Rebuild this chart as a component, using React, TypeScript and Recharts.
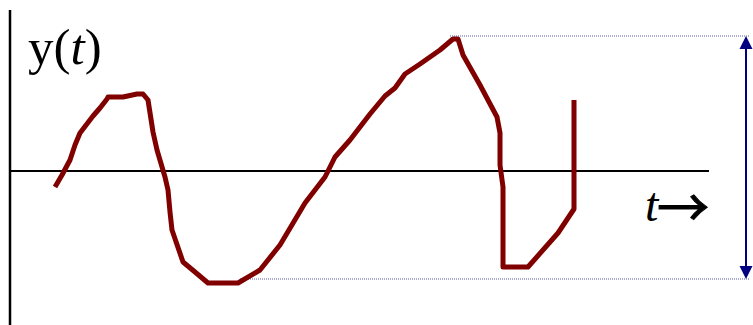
import React from 'react';
import { LineChart, Line, XAxis, YAxis, ReferenceLine } from 'recharts';

// time positions (t) and signal values y(t)
const tValues = [55, 62, 70, 75, 80, 93, 100, 107, 108, 123, 137, 143, 148, 153, 157, 165, 168, 170, 172, 183, 195, 208, 238, 260, 280, 305, 325, 335, 350, 370, 385, 395, 405, 420, 440, 453, 458, 463, 480, 497, 500, 500, 503, 503, 528, 558, 574, 574];
const yValues = [-16, -4, 11, 26, 38, 55, 63, 72, 74, 74, 77, 77, 71, 39, 21, -6, -19, -41, -59, -91, -101, -112, -112, -99, -74, -32, -6, 14, 31, 57, 75, 83, 97, 107, 121, 132, 132, 116, 86, 54, 38, 6, -16, -96, -96, -62, -38, 71];

const data = tValues.map((t, i) => ({ t, y: yValues[i] }));

// annotation levels
const yMax = 135;
const yMin = -108;
const arrowT = 746;

const W = 753;
const H = 325;

const ArrowShape = (p: any) => {
  const x = p.x1;
  const top = Math.min(p.y1, p.y2);
  const bot = Math.max(p.y1, p.y2);
  const hw = 6.5;
  const hl = 13;
  return (
    <g>
      <line x1={x} y1={top + hl} x2={x} y2={bot - hl} stroke="#000080" strokeWidth={2} />
      <polygon points={`${x},${top} ${x - hw},${top + hl} ${x + hw},${top + hl}`} fill="#000080" />
      <polygon points={`${x},${bot} ${x - hw},${bot - hl} ${x + hw},${bot - hl}`} fill="#000080" />
    </g>
  );
};

const serif = "'Liberation Serif', 'Times New Roman', serif";

export default function App() {
  return (
    <div style={{ position: 'absolute', left: 0, top: 0, width: W, height: H, background: '#fff' }}>
      <LineChart width={W} height={H} data={data} margin={{ top: 0, right: 0, bottom: 0, left: 0 }}>
        <XAxis type="number" dataKey="t" domain={[0, W]} hide allowDataOverflow />
        <YAxis type="number" domain={[-154, 171]} hide allowDataOverflow />
        <ReferenceLine segment={[{ x: 10, y: 161 }, { x: 10, y: -154 }]} stroke="#000" strokeWidth={2.5} ifOverflow="visible" />
        <ReferenceLine segment={[{ x: 9, y: 0 }, { x: 709, y: 0 }]} stroke="#000" strokeWidth={2} ifOverflow="visible" />
        <ReferenceLine segment={[{ x: 450, y: yMax }, { x: 750, y: yMax }]} stroke="#5c5ca8" strokeWidth={1} strokeDasharray="1 1" ifOverflow="visible" />
        <ReferenceLine segment={[{ x: 240, y: yMin }, { x: 750, y: yMin }]} stroke="#5c5ca8" strokeWidth={1} strokeDasharray="1 1" ifOverflow="visible" />
        <ReferenceLine segment={[{ x: arrowT, y: yMax }, { x: arrowT, y: yMin }]} shape={ArrowShape} ifOverflow="visible" />
        <Line
          type="linear"
          dataKey="y"
          stroke="#800000"
          strokeWidth={5}
          dot={false}
          activeDot={false}
          strokeLinejoin="round"
          isAnimationActive={false}
        />
        <text x={28} y={64} fontFamily={serif} fontSize={51} fill="#000">
          y(<tspan fontStyle="italic">t</tspan>)
        </text>
        <text x={645} y={221} fontFamily={serif} fontSize={48} fill="#000">
          <tspan fontStyle="italic">t</tspan>
        </text>
        <text x={709} y={227} textAnchor="end" fontFamily="'Noto Sans CJK JP', sans-serif" fontSize={52} fill="#000" stroke="#000" strokeWidth={1}>
          →
        </text>
      </LineChart>
    </div>
  );
}
